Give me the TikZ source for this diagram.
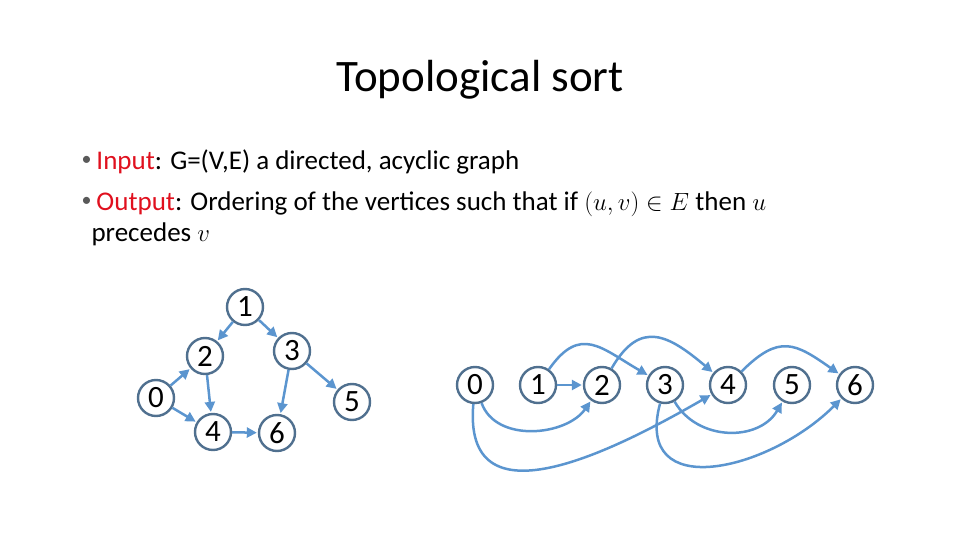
\documentclass[tikz,border=0pt]{standalone}
\usepackage{fontspec}
\setmainfont{Carlito}
\usepackage{xcolor}
\usepackage{amsmath}
\usetikzlibrary{arrows.meta,positioning}
\definecolor{vertexGray}{HTML}{50708F}
\definecolor{edgeBlue}{HTML}{5B95CF}
\definecolor{labelRed}{HTML}{E0101E}
\definecolor{dotGray}{HTML}{595959}
\newcommand{\itemdot}{\raisebox{4pt}{\textcolor{dotGray}{\fontsize{20}{20}\selectfont\textbullet}}\hspace{5pt}}

\begin{document}
\begin{tikzpicture}[
    x=1pt, y=-1pt,
    vertex/.style = {circle, draw=vertexGray, line width=2.4pt, fill=white, minimum size=36pt, inner sep=0pt, font=\fontsize{31}{31}\selectfont},
    arrow/.style = {-{Triangle[length=10pt,width=10pt]}, line width=2.5pt, color=edgeBlue, shorten >=1pt},
    bullet/.style = {anchor=base west, font=\fontsize{27}{31}\selectfont}
]
    \useasboundingbox (0,0) rectangle (960,540);

    % Title and bullets
    \node [font=\fontsize{45}{45}\selectfont] (title) at (480,80) {Topological sort};
    \node [bullet] (b1) at (78,170) {\itemdot\textcolor{labelRed}{Input}: G=(V,E) a directed, acyclic graph};
    \node [bullet] (b2) at (78,210) {\itemdot\textcolor{labelRed}{Output}: Ordering of the vertices such that if $(u,v)\in E$ then $u$};
    \node [bullet] (b3) at (88,241) {precedes $v$};

    % Left graph
    \node [vertex] (l1) at (245,307) {1};
    \node [vertex] (l2) at (205,356) {2};
    \node [vertex] (l3) at (292,351) {3};
    \node [vertex] (l0) at (156,398) {0};
    \node [vertex] (l5) at (352,402) {5};
    \node [vertex] (l4) at (213,432) {4};
    \node [vertex] (l6) at (277,433) {6};

    \draw [arrow] (l1) -- (l2);
    \draw [arrow] (l1) -- (l3);
    \draw [arrow] (l0) -- (l2);
    \draw [arrow] (l0) -- (l4);
    \draw [arrow] (l2) -- (l4);
    \draw [arrow] (l3) -- (l6);
    \draw [arrow] (l3) -- (l5);
    \draw [arrow] (l4) -- (l6);

    % Sorted order
    \foreach \v/\x in {0/475,1/538,2/602,3/665,4/728,5/792,6/855}
        \node [vertex] (r\v) at (\x,385) {\v};

    \draw [arrow] (r1) to[out=55, in=150, looseness=1.4] (r3);
    \draw [arrow] (r2) to[out=60, in=140, looseness=1.45] (r4);
    \draw [arrow] (r4) to[out=45, in=145, looseness=1.4] (r6);
    \draw [arrow] (r1) -- (r2);
    \draw [arrow] (r0) to[out=-70, in=-125, looseness=1] (r2);
    \draw [arrow] (r0) to[out=-95, in=-150, looseness=1.3] (r4);
    \draw [arrow] (r3) to[out=-60, in=-120, looseness=1.1] (r5);
    \draw [arrow] (r3) to[out=-105, in=-135, looseness=1.45] (r6);
\end{tikzpicture}
\end{document}
